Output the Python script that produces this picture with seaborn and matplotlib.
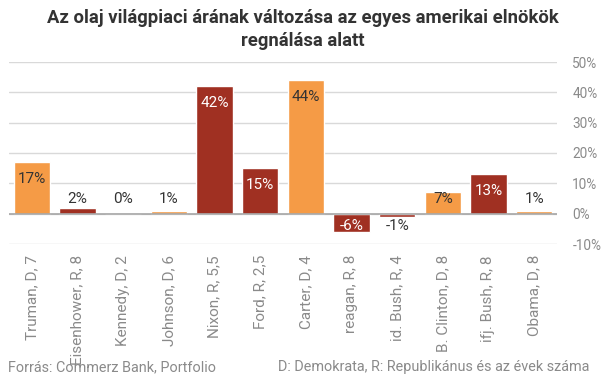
import pandas as pd
import matplotlib
matplotlib.use("Agg")
import matplotlib.pyplot as plt
import seaborn as sns

# --- adatok
elnokok = ["Truman, D, 7", "Eisenhower, R, 8", "Kennedy, D, 2", "Johnson, D, 6",
           "Nixon, R, 5,5", "Ford, R, 2,5", "Carter, D, 4", "reagan, R, 8",
           "id. Bush, R, 4", "B. Clinton, D, 8", "ifj. Bush, R, 8", "Obama, D, 8"]
part = ["D", "R", "D", "D", "R", "R", "D", "R", "R", "D", "R", "D"]
valtozas = [17, 2, 0, 1, 42, 15, 44, -6, -1, 7, 13, 1]
y_ticks = [-10, 0, 10, 20, 30, 40, 50]

NARANCS = "#F59B46"
BORDO = "#A03022"
SOTET = "#333333"
SZURKE = "#8a8a8a"

sns.set_style("white")
plt.rcParams["font.family"] = ["Roboto", "DejaVu Sans"]

df = pd.DataFrame({"elnok": elnokok, "part": part, "valtozas": valtozas})

fig = plt.figure(figsize=(6.05, 3.78), dpi=100)
ax = fig.add_axes([9 / 605, 1 - 244 / 378, 548 / 605, (244 - 62) / 378])

sns.barplot(data=df, x="elnok", y="valtozas", hue="part",
            palette={"D": NARANCS, "R": BORDO}, width=0.79, dodge=False,
            saturation=1, legend=False, ax=ax, zorder=2)

ax.set_ylim(-10, 50)
ax.set_xlim(-0.5, len(elnokok) - 0.5)
ax.set_yticks(y_ticks)
ax.set_yticklabels([f"{t}%" for t in y_ticks])
ax.yaxis.tick_right()
ax.grid(axis="y", color="#d9d9d9", lw=1, zorder=0)
ax.set_axisbelow(True)
ax.axhline(0, color="#a6a6a6", lw=1.2, zorder=3)
for s in ax.spines.values():
    s.set_visible(False)
ax.tick_params(axis="y", length=0, pad=11, labelsize=9.8, labelcolor=SZURKE)
ax.tick_params(axis="x", length=0, pad=8, labelsize=11, labelcolor=SZURKE,
               rotation=90)
ax.set_xlabel("")
ax.set_ylabel("")

# --- címkék az oszlopokon
for i, (v, p) in enumerate(zip(valtozas, part)):
    if v >= 0:
        y = max(v - 5.5, 4.9)
    else:
        y = min(v + 5.5, -4)
    belul = abs(y) < abs(v)
    szin = "white" if (p == "R" and belul) else SOTET
    ax.text(i, y, f"{v}%", ha="center", va="center", fontsize=11,
            color=szin, zorder=4)

fig.text(0.5, 1 - 9 / 378,
         "Az olaj világpiaci árának változása az egyes amerikai elnökök\nregnálása alatt",
         ha="center", va="top", fontsize=13.3, fontweight="bold", color=SOTET,
         linespacing=1.35)
fig.text(8 / 605, 1 - 367 / 378, "Forrás: Commerz Bank, Portfolio",
         ha="left", va="center", fontsize=10.4, color=SZURKE)
fig.text(589 / 605, 1 - 367 / 378, "D: Demokrata, R: Republikánus és az évek száma",
         ha="right", va="center", fontsize=10.4, color=SZURKE)

fig.savefig("out.png", dpi=100)
